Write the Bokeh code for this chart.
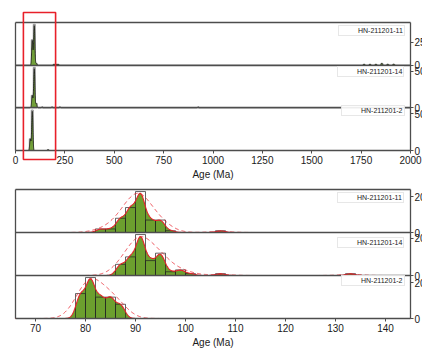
import numpy as np
from bokeh.plotting import figure
from bokeh.models import (Range1d, FixedTicker, Legend, LegendItem,
                          BoxAnnotation, LinearAxis)
from bokeh.core.properties import value
from bokeh.layouts import column
from bokeh.embed import file_html
from bokeh.resources import INLINE

# ---------------- data ----------------
samples = ["HN-211201-11", "HN-211201-14", "HN-211201-2"]

# overview panel (0-2000 Ma), 10 Ma bins (left edges) and counts
ov_bin = 10
ov_edges_11 = [80, 90, 100, 190, 200, 210, 1760, 1790, 1820, 1850, 1880, 1910]
ov_counts_11 = [28, 45, 2, 1, 1, 1, 1, 1, 1, 2, 1, 1]
ov_edges_14 = [80, 90, 100, 130, 180, 220, 920]
ov_counts_14 = [17, 55, 6, 1, 1, 1, 1]
ov_edges_2 = [70, 80, 160]
ov_counts_2 = [16, 55, 1]
ov_ymax = [47, 58, 58]
ov_tick = [25, 50, 50]
ov_xticks = [0, 250, 500, 750, 1000, 1250, 1500, 1750, 2000]
ov_xrange = (0, 2000)
zoom_lo, zoom_hi = 40, 203

# detail panel (66-145 Ma), 2 Ma bins (left edges) and counts
dt_bin = 2
dt_edges_11 = [82, 84, 86, 88, 90, 92, 94, 96, 106]
dt_counts_11 = [2, 2, 8, 14, 23, 7, 7, 1, 1]
dt_edges_14 = [86, 88, 90, 92, 94, 96, 98, 100, 106, 132]
dt_counts_14 = [6, 10, 22, 8, 12, 2, 3, 1, 1, 1]
dt_edges_2 = [78, 80, 82, 84, 86]
dt_counts_2 = [14, 23, 12, 12, 8]
dt_ymax = [24.15, 23.1, 24.15]
dt_tick = [20, 20, 20]
dt_xticks = [70, 80, 90, 100, 110, 120, 130, 140]
dt_xrange = (66, 145)

ov_edges = [ov_edges_11, ov_edges_14, ov_edges_2]
ov_counts = [ov_counts_11, ov_counts_14, ov_counts_2]
dt_edges = [dt_edges_11, dt_edges_14, dt_edges_2]
dt_counts = [dt_counts_11, dt_counts_14, dt_counts_2]

GREEN = "#6c9f2e"
RED = "#e8202a"
FRAME = "#4d4d4d"
TXT = "#1a1a1a"
FONT = "Liberation Sans"
W = 422


def kde(grid, edges, counts, bw, sigma):
    centers = np.asarray(edges, float) + bw / 2.0
    c = np.asarray(counts, float)
    g = np.exp(-0.5 * ((grid[:, None] - centers[None, :]) / sigma) ** 2) / (sigma * np.sqrt(2 * np.pi))
    return (g * c * bw).sum(axis=1)


def make_fig(xr, xticks, height, px_left, px_right, px_top, px_bottom, ymaxs, ticks):
    """Frame covers the whole canvas; panel box drawn with fixed-location axes."""
    upx = (xr[1] - xr[0]) / (W - px_left - px_right)
    uy = 3.0 / (height - px_top - px_bottom)
    x0 = xr[0] - px_left * upx
    x1 = xr[1] + px_right * upx
    y1 = 3 + px_top * uy
    y0 = -px_bottom * uy
    p = figure(width=W, height=height, x_range=Range1d(x0, x1), y_range=Range1d(y0, y1),
               output_backend="svg", toolbar_location=None,
               x_axis_location=None, y_axis_location=None,
               min_border=0)
    p.grid.visible = False
    p.outline_line_color = None

    # bottom axis
    xa = LinearAxis(fixed_location=0, bounds=xr,
                    ticker=FixedTicker(ticks=xticks, minor_ticks=[]))
    xa.major_tick_out = 3
    xa.major_tick_in = 0
    xa.major_tick_line_color = FRAME
    xa.axis_line_color = FRAME
    xa.axis_line_width = 1.3
    xa.major_label_text_font = FONT
    xa.major_label_text_font_size = "10px"
    xa.major_label_text_color = TXT
    xa.major_label_standoff = 2
    xa.axis_label = "Age (Ma)"
    xa.axis_label_text_font = FONT
    xa.axis_label_text_font_size = "10px"
    xa.axis_label_text_font_style = "normal"
    xa.axis_label_text_color = TXT
    xa.axis_label_standoff = 2
    p.add_layout(xa, "below")

    # right axis with per-panel ticks
    pos, labs = [], []
    for i, (ym, t) in enumerate(zip(ymaxs, ticks)):
        b = 2 - i
        pos += [b, b + t / ym]
        labs += ["0", str(t)]
    ya = LinearAxis(fixed_location=xr[1], bounds=(0, 3),
                    ticker=FixedTicker(ticks=pos, minor_ticks=[]))
    ya.major_label_overrides = {q: s for q, s in zip(pos, labs)}
    ya.major_tick_out = 3
    ya.major_tick_in = 0
    ya.major_tick_line_color = FRAME
    ya.axis_line_color = FRAME
    ya.axis_line_width = 1.3
    ya.major_label_standoff = 1
    ya.major_label_text_font = FONT
    ya.major_label_text_font_size = "10px"
    ya.major_label_text_color = TXT
    p.add_layout(ya, "right")

    # left border
    la = LinearAxis(fixed_location=xr[0], bounds=(0, 3),
                    ticker=FixedTicker(ticks=[], minor_ticks=[]),
                    axis_line_color=FRAME, axis_line_width=1.3,
                    major_label_text_font_size="0px")
    p.add_layout(la, "left")
    # top border and panel dividers
    for loc in (1, 2, 3):
        ha = LinearAxis(fixed_location=loc, bounds=xr,
                        ticker=FixedTicker(ticks=[], minor_ticks=[]),
                        axis_line_color=FRAME, axis_line_width=1.3,
                        major_label_text_font_size="0px")
        p.add_layout(ha, "above")
    return p


def add_legends(p, line_color, line_width, locs):
    for name, loc in zip(samples, locs):
        r = p.line([], [], line_color=line_color, line_width=line_width)
        leg = Legend(items=[LegendItem(label=value(name), renderers=[r])], location=loc,
                     label_text_font=FONT, label_text_font_size="7px", label_text_color=TXT,
                     label_height=5, glyph_height=5, glyph_width=10, label_standoff=8,
                     padding=1, spacing=0, margin=0,
                     border_line_color="#cfcfcf", border_line_width=0.8,
                     background_fill_color="white", background_fill_alpha=0.9)
        p.add_layout(leg)


# ---------------- overview figure ----------------
p1 = make_fig(ov_xrange, ov_xticks, 181, 15, 12, 22, 31, ov_ymax, ov_tick)
grid1 = np.linspace(ov_xrange[0], ov_xrange[1], 8001)
for i in range(3):
    b = 2 - i
    ym = ov_ymax[i]
    e = np.asarray(ov_edges[i], float)
    c = np.asarray(ov_counts[i], float)
    p1.quad(left=e, right=e + ov_bin, bottom=b, top=b + c / ym,
            fill_color="#d9d9d9", fill_alpha=0.9, line_color="#7a7a7a", line_width=0.8)
    k = kde(grid1, ov_edges[i], ov_counts[i], ov_bin, 3.0)
    k = k / k.max() * (0.97 * c.max() / ym)
    p1.varea(x=grid1, y1=b, y2=b + k, fill_color=GREEN, fill_alpha=0.9)
    p1.line(grid1, b + k, line_color="#111111", line_width=0.8)
add_legends(p1, "#999999", 1, [(338, 145), (337, 104), (341, 65)])
u1 = 3.0 / (181 - 22 - 31)
p1.add_layout(BoxAnnotation(left=zoom_lo, right=zoom_hi, bottom=-9 * u1, top=3 + 10 * u1,
                            fill_alpha=0, line_color=RED, line_alpha=1, line_width=1.6))

# ---------------- detail figure ----------------
p2 = make_fig(dt_xrange, dt_xticks, 171, 15, 12, 8, 34, dt_ymax, dt_tick)
grid2 = np.linspace(dt_xrange[0], dt_xrange[1], 1200)
for i in range(3):
    b = 2 - i
    ym = dt_ymax[i]
    e = np.asarray(dt_edges[i], float)
    c = np.asarray(dt_counts[i], float)
    k = np.minimum(kde(grid2, dt_edges[i], dt_counts[i], dt_bin, 0.9) / ym, 0.99)
    k2 = kde(grid2, dt_edges[i], dt_counts[i], dt_bin, 2.2)
    k2 = k2 / k2.max() * k.max()
    p2.varea(x=grid2, y1=b, y2=b + k, fill_color=GREEN)
    p2.quad(left=e, right=e + dt_bin, bottom=b, top=b + c / ym,
            fill_alpha=0, line_color="#222222", line_alpha=0.7, line_width=1)
    p2.line(grid2, b + k, line_color=RED, line_width=1.1)
    p2.line(grid2, b + k2, line_color=RED, line_width=1.0, line_dash="4 3", line_alpha=0.8)
add_legends(p2, "#333333", 1.3, [(337, 149), (337, 104), (341, 66)])

layout = column(p1, p2, spacing=0)
open("out.html", "w").write(file_html(layout, INLINE))
